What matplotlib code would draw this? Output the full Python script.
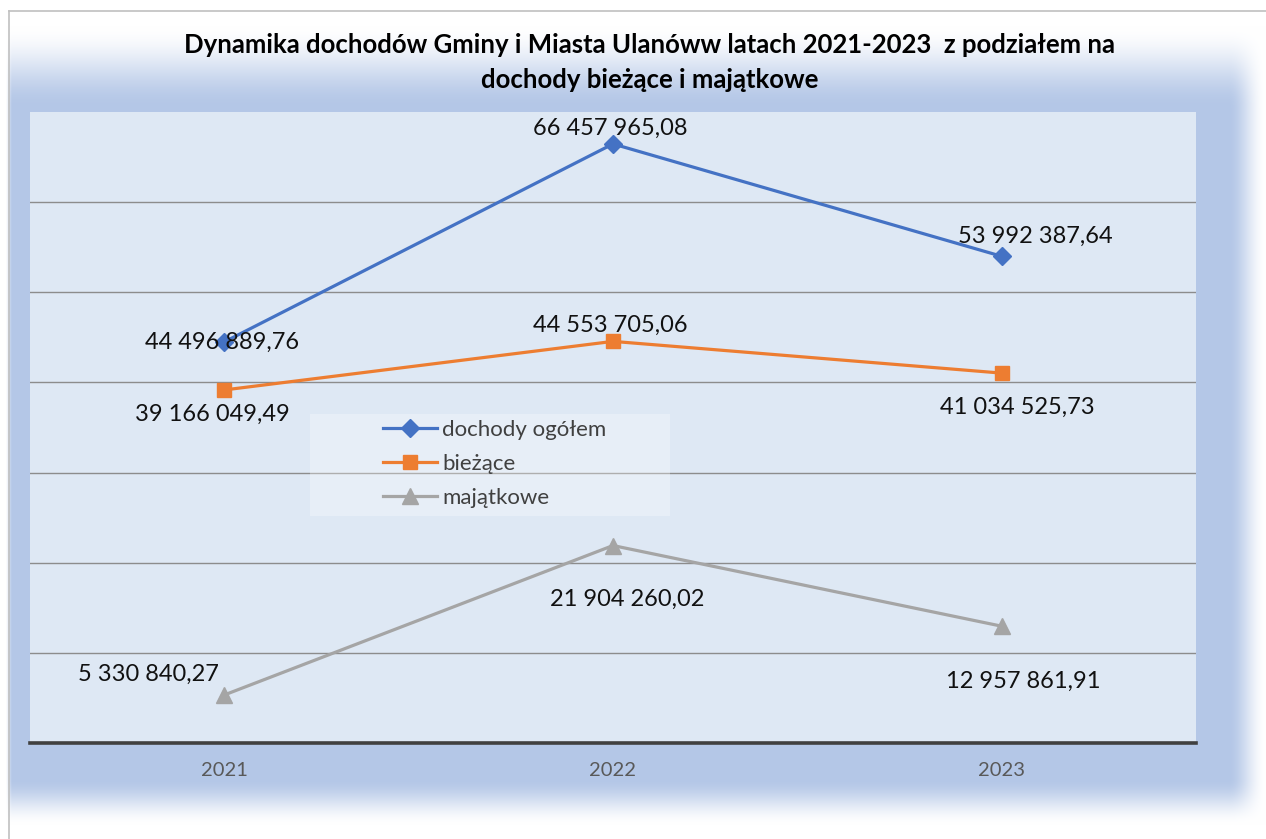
import numpy as np
import matplotlib.pyplot as plt
from matplotlib.patches import Rectangle

plt.rcParams['font.family'] = ['Lato', 'DejaVu Sans']

years = ["2021", "2022", "2023"]
ogolem = [44496889.76, 66457965.08, 53992387.64]
biezace = [39166049.49, 44553705.06, 41034525.73]
majatkowe = [5330840.27, 21904260.02, 12957861.91]

series_names = ["dochody ogółem", "bieżące", "majątkowe"]
title_line1 = "Dynamika dochodów Gminy i Miasta Ulanóww latach 2021-2023  z podziałem na"
title_line2 = "dochody bieżące i majątkowe"


def fmt_pl(v):
    s = f"{v:,.2f}"
    return s.replace(",", " ").replace(".", ",")


W, H = 1266, 839
fig = plt.figure(figsize=(W / 100, H / 100), dpi=100)

# soft blue glow behind the plot area
xs = np.arange(W)
ys = np.arange(H)


def ramp(v, a, b):
    t = np.clip((v - a) / (b - a), 0, 1)
    return t * t * (3 - 2 * t)


fx = ramp(xs, 5, 12) * (1 - ramp(xs, 1228, 1266))
fy = ramp(ys, 25, 108) * (1 - ramp(ys, 778, 825))
alpha = fy[:, None] * fx[None, :]
glow = np.ones((H, W, 3))
col = np.array([180, 199, 231]) / 255
glow = glow * (1 - alpha[..., None]) + col * alpha[..., None]

bg = fig.add_axes([0, 0, 1, 1])
bg.imshow(glow, extent=(0, W, H, 0), aspect="auto", interpolation="bilinear")
bg.set_xlim(0, W)
bg.set_ylim(H, 0)
bg.axis("off")
bg.plot([9, 9], [11, H], color="#c0c0c0", lw=1.2)
bg.plot([9, W], [11, 11], color="#c0c0c0", lw=1.2)

ax = fig.add_axes([30 / W, (H - 743) / H, (1196 - 30) / W, (743 - 112) / H])
ax.set_facecolor("#dee8f4")
x = np.arange(len(years))

ax.plot(x, ogolem, color="#4472c4", lw=2.3, marker="D", ms=9, label=series_names[0], zorder=3)
ax.plot(x, biezace, color="#ed7d31", lw=2.3, marker="s", ms=10, label=series_names[1], zorder=3)
ax.plot(x, majatkowe, color="#a5a5a5", lw=2.3, marker="^", ms=11, label=series_names[2], zorder=3)

ax.set_xlim(-0.5, 2.5)
ax.set_ylim(0, 70e6)
ax.set_yticks(np.arange(10e6, 70e6, 10e6))
ax.yaxis.grid(True, color="#8c8c8c", lw=1.0)
ax.set_axisbelow(True)
ax.tick_params(axis="y", length=0, labelleft=False)
ax.set_xticks(x)
ax.set_xticklabels(years)
ax.tick_params(axis="x", length=0, pad=14, labelsize=14.5, labelcolor="#595959")
for s in ["top", "left", "right"]:
    ax.spines[s].set_visible(False)
ax.spines["bottom"].set_color("#404040")
ax.spines["bottom"].set_linewidth(2.6)

# data labels (offsets in pixels)
offsets = {
    0: [(-2, 0), (-3, 16), (34, 20)],
    1: [(-12, -24), (-3, 16), (16, -34)],
    2: [(-76, 21), (14, -54), (22, -55)],
}
for k, vals in enumerate([ogolem, biezace, majatkowe]):
    for i, v in enumerate(vals):
        ax.annotate(fmt_pl(v), (x[i], v), xytext=offsets[k][i], textcoords="offset pixels",
                    ha="center", va="center", fontsize=17, color="#111111", zorder=4)

# legend box (semi-transparent, gridline shows through)
ax.add_patch(Rectangle((310 / W, (H - 516) / H), 360 / W, 102 / H, transform=fig.transFigure,
                       facecolor="white", alpha=0.3, edgecolor="none", zorder=2))
leg = ax.legend(loc="center left", bbox_to_anchor=(383 / W, (H - 464) / H), bbox_transform=fig.transFigure,
                frameon=False, fontsize=16, handlelength=2.43, handletextpad=0.22, labelspacing=0.62,
                borderpad=0, borderaxespad=0)
leg.set_zorder(6)
for t in leg.get_texts():
    t.set_color("#404040")

fig.text(650 / W, 1 - 45 / H, title_line1, ha="center", va="center", fontsize=18.5, fontweight="bold")
fig.text(650 / W, 1 - 80 / H, title_line2, ha="center", va="center", fontsize=18.5, fontweight="bold")

fig.savefig("out.png", dpi=100)
